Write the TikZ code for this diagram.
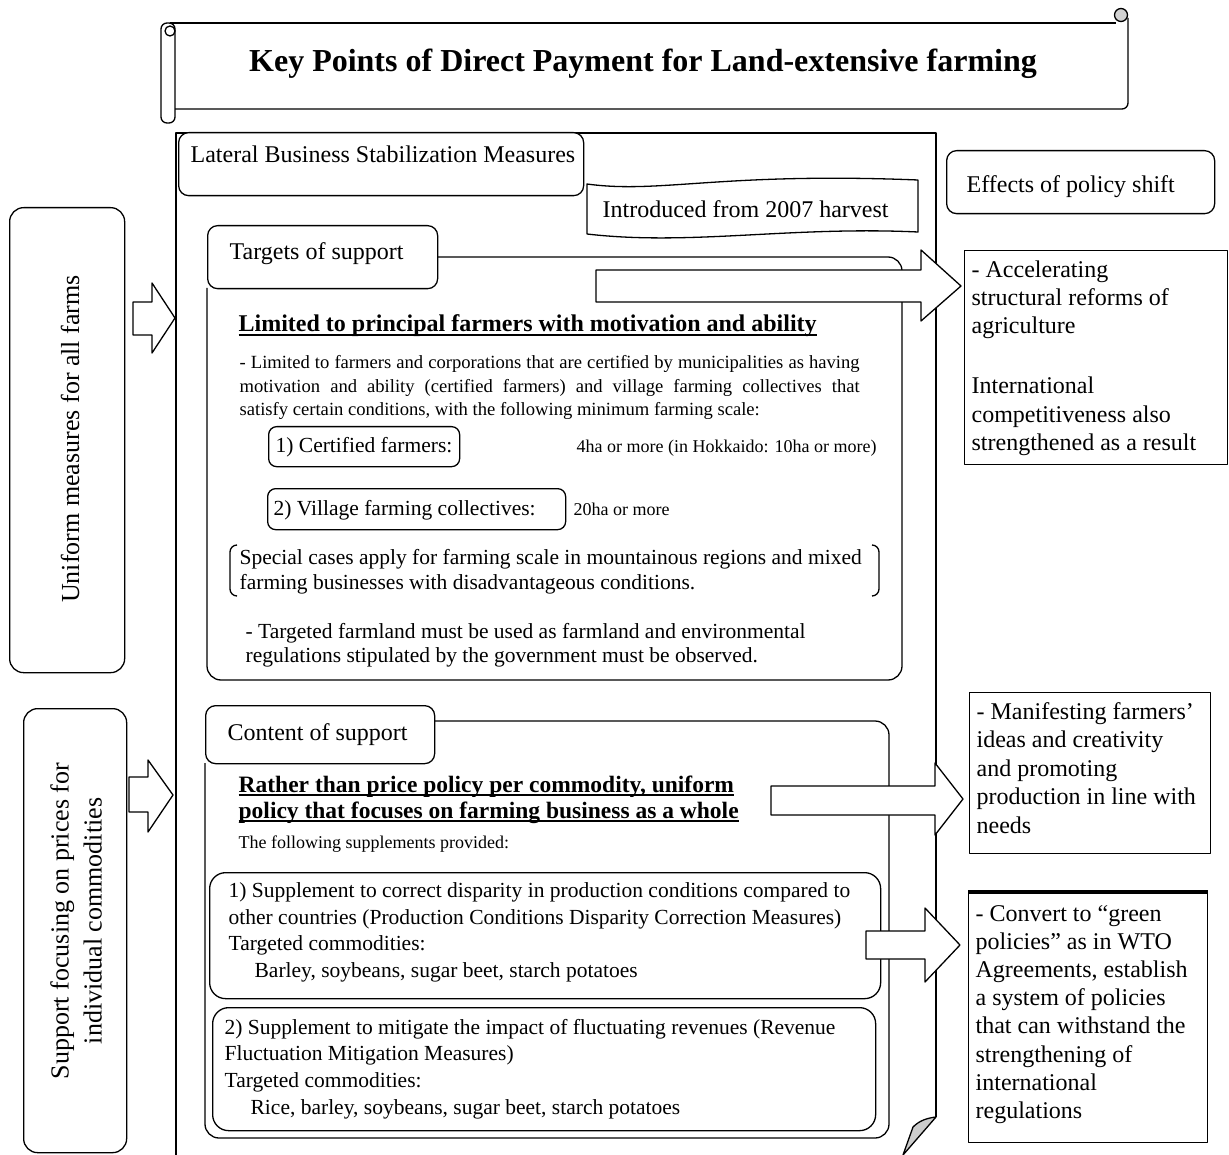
\documentclass[tikz,border=0pt]{standalone}
\usepackage{fontspec}
\setmainfont{Liberation Serif}
\newcommand{\fsz}[2]{\fontsize{#1}{#2}\selectfont}
\newcommand{\myul}[1]{\setbox0\hbox{#1}\rlap{\rule[-4pt]{\wd0}{1.6pt}}\box0}
\begin{document}
\begin{tikzpicture}[x=1pt,y=-1pt,line width=1.3pt,line join=round,
 rbox/.style={draw,rounded corners=10pt,anchor=north west,inner sep=0},
 sbox/.style={draw,anchor=north west,inner sep=0},
 blk/.style={draw,fill=white,line width=1.3pt},
 tx/.style={anchor=base west,inner sep=0,font=\fsz{24}{28}},
 tm/.style={anchor=base west,inner sep=0,font=\fsz{21.5}{25}},
 tsm/.style={anchor=base west,inner sep=0,font=\fsz{18}{22}},
 tp/.style={anchor=base west,inner sep=0,font=\fsz{18.6}{23}},
 hd/.style={anchor=base west,inner sep=0,font=\bfseries\fsz{24}{28}},
 hdb/.style={anchor=base west,inner sep=0,font=\bfseries\fsz{23.5}{28}},
 sec/.style={draw,rounded corners=14pt}]
\useasboundingbox (0,0) rectangle (1229,1155);

% title scroll
\draw[rounded corners=6pt] (161,23) rectangle (175,123);
\draw (170,31) circle (5);
\draw (170,23) -- (1116,23);
\draw[rounded corners=6pt] (175,109) -- (1128,109) -- (1128,18);
\draw[fill=gray!35] (1121,15) circle (6.5);
\node[anchor=base,inner sep=0,font=\bfseries\fsz{32}{36}] (title) at (643,72) {Key Points of Direct Payment for Land-extensive farming};

% main frame
\draw (176,1155) -- (176,133) -- (936,133) -- (936,1117);
\filldraw[fill=gray!40] (936,1117) -- (903,1155) -- (913,1127) .. controls (920,1120) and (928,1118) .. (936,1117) -- cycle;

% lateral
\node[rbox,fill=white,minimum width=405,minimum height=63] (lat) at (178,132) {};
\node[tx] (latT) at (190,163) {Lateral Business Stabilization Measures};

% introduced
\draw (587,184) .. controls (660,194) and (720,172) .. (918,180) -- (918,232) .. controls (790,226) and (690,246) .. (587,234) -- cycle;
\node[tx] (intro) at (602,218) {Introduced from 2007 harvest};

% effects
\node[rbox,minimum width=268,minimum height=63] (eff) at (946,150) {};
\node[tx] (effT) at (966,193) {Effects of policy shift};

% accelerating box
\node[sbox,minimum width=263,minimum height=214] (acc) at (964,250) {};
\foreach \t/\yy [count=\i] in {{- Accelerating}/278,{structural reforms of}/306,{agriculture}/334,{International}/394,{competitiveness also}/422,{strengthened as a result}/450}
  \node[tx] (acc\i) at (971,\yy) {\t};

% targets section
\node[rbox,minimum width=230,minimum height=63] (tgt) at (207,225) {};
\node[tx] (tgtT) at (229,260) {Targets of support};
\draw[sec] (437,257) -- (902,257) -- (902,680) -- (207,680) -- (207,288);
\node[hd] (h1) at (238,332) {\myul{Limited to principal farmers with motivation and ability}};
\node[tp] (p1) at (239,369) {\makebox[620pt][s]{- Limited to farmers and corporations that are certified by municipalities as having}};
\node[tp] (p2) at (239,393) {\makebox[620pt][s]{motivation and ability (certified farmers) and village farming collectives that}};
\node[tp] (p3) at (239,416) {satisfy certain conditions, with the following minimum farming scale:};
\node[rbox,rounded corners=8pt,minimum width=191,minimum height=40] (cf) at (268,426) {};
\node[tm] (cfT) at (275,453) {1) Certified farmers:};
\node[tsm] (cfV) at (576,452) {4ha or more (in Hokkaido: 10ha or more)};
\node[rbox,rounded corners=8pt,minimum width=298,minimum height=41] (vf) at (267,488) {};
\node[tm] (vfT) at (273,515) {2) Village farming collectives:};
\node[tsm] (vfV) at (573,515) {20ha or more};
\draw[rounded corners=7pt] (237,545) -- (230,545) -- (230,596) -- (237,596);
\draw[rounded corners=7pt] (872,545) -- (879,545) -- (879,596) -- (872,596);
\node[tm] (sp1) at (239,564) {Special cases apply for farming scale in mountainous regions and mixed};
\node[tm] (sp2) at (239,589) {farming businesses with disadvantageous conditions.};
\node[tm] (tf1) at (245,638) {- Targeted farmland must be used as farmland and environmental};
\node[tm] (tf2) at (245,662) {regulations stipulated by the government must be observed.};

% content section
\node[rbox,minimum width=229,minimum height=58] (cnt) at (205,705) {};
\node[tx] (cntT) at (227,740) {Content of support};
\draw[sec] (434,721) -- (889,721) -- (889,1138) -- (205,1138) -- (205,763);
\node[hdb] (h2a) at (238,792) {\myul{Rather than price policy per commodity, uniform}};
\node[hdb] (h2b) at (238,818) {\myul{policy that focuses on farming business as a whole}};
\node[tsm] (fol) at (238,848) {The following supplements provided:};
\node[rbox,rounded corners=16pt,minimum width=671,minimum height=126] (s1) at (209,872) {};
\node[tm] (s1a) at (228,897) {1) Supplement to correct disparity in production conditions compared to};
\node[tm] (s1b) at (228,924) {other countries (Production Conditions Disparity Correction Measures)};
\node[tm] (s1c) at (228,950) {Targeted commodities:};
\node[tm] (s1d) at (254,977) {Barley, soybeans, sugar beet, starch potatoes};
\node[rbox,rounded corners=16pt,minimum width=663,minimum height=123] (s2) at (212,1007) {};
\node[tm] (s2a) at (224,1034) {2) Supplement to mitigate the impact of fluctuating revenues (Revenue};
\node[tm] (s2b) at (224,1060) {Fluctuation Mitigation Measures)};
\node[tm] (s2c) at (224,1087) {Targeted commodities:};
\node[tm] (s2d) at (250,1114) {Rice, barley, soybeans, sugar beet, starch potatoes};

% manifesting box
\node[sbox,minimum width=241,minimum height=161] (man) at (969,692) {};
\foreach \t [count=\i] in {{- Manifesting farmers’},{ideas and creativity},{and promoting},{production in line with},{needs}}
  \node[tx] (man\i) at (976,{719+28.5*(\i-1)}) {\t};

% convert box
\node[sbox,minimum width=239,minimum height=250] (cv) at (968,892) {};
\draw[line width=3.5pt] (cv.north west) -- (cv.north east);
\foreach \t [count=\i] in {{- Convert to “green},{policies” as in WTO},{Agreements, establish},{a system of policies},{that can withstand the},{strengthening of},{international},{regulations}}
  \node[tx] (cv\i) at (975,{921+28.2*(\i-1)}) {\t};

% left boxes
\node[rbox,rounded corners=14pt,minimum width=115,minimum height=465] (lb1) at (9,207) {};
\node[rotate=90,inner sep=0,font=\fsz{26}{33}] (lb1T) at (70,439) {Uniform measures for all farms};
\node[rbox,rounded corners=14pt,minimum width=103,minimum height=444] (lb2) at (23,708) {};
\node[rotate=90,inner sep=0,align=center,font=\fsz{26}{33}] (lb2T) at (76,921) {Support focusing on prices for\\individual commodities};

% block arrows
\draw[blk] (133,302) -- (152,302) -- (152,283) -- (175,318) -- (152,353) -- (152,335) -- (133,335) -- cycle;
\draw[blk] (129,777) -- (148,777) -- (148,760) -- (173,795) -- (148,832) -- (148,812) -- (129,812) -- cycle;
\draw[blk] (596,270) -- (921,270) -- (921,250) -- (961,286) -- (921,321) -- (921,302) -- (596,302) -- cycle;
\draw[blk] (771,786) -- (935,786) -- (935,763) -- (963,799) -- (935,835) -- (935,815) -- (771,815) -- cycle;
\draw[blk] (866,931) -- (925,931) -- (925,908) -- (960,945) -- (925,982) -- (925,959) -- (866,959) -- cycle;
\end{tikzpicture}
\end{document}
